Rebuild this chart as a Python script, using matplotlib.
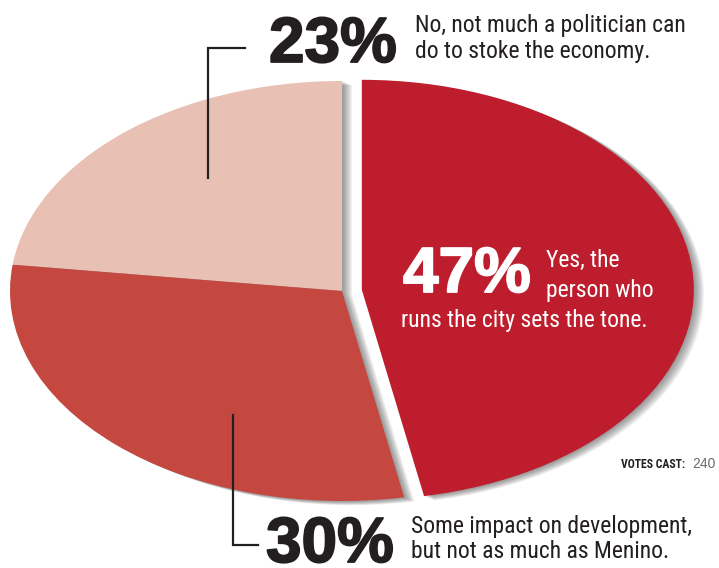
import matplotlib.pyplot as plt
from matplotlib import font_manager, patheffects

# data
shares = [23, 30, 47]
colors = ['#E9C0B4', '#C44740', '#BE1D2D']
pct_labels = ['23%', '30%', '47%']
lines_23 = ['No, not much a politician can', 'do to stoke the economy.']
lines_30 = ['Some impact on development,', 'but not as much as Menino.']
lines_47 = ['Yes, the', 'person who', 'runs the city sets the tone.']
votes_cast = 240

W, H = 719, 568

# look for a narrow face, the reference uses a condensed grotesque
entries = font_manager.fontManager.ttflist
names = {f.name for f in entries}
narrow = {'family': 'DejaVu Sans'}
found = False
for nm in ['Liberation Sans Narrow', 'Roboto Condensed', 'Open Sans Condensed', 'Noto Sans Condensed']:
    if nm in names:
        narrow = {'family': nm}
        found = True
        break
if not found:
    for f in entries:
        if f.name in ('DejaVu Sans', 'Noto Sans', 'Open Sans', 'Roboto') and f.stretch == 'condensed':
            narrow = {'family': f.name, 'fontstretch': 'condensed'}
            found = True
            break
small_size = 17 if found else 14
heavy = 'Liberation Sans'

fig = plt.figure(figsize=(W / 100, H / 100), dpi=100)

# pie drawn as a circle, squashed into an ellipse via the axis limits
cx, cy, a, b = 342, 291, 332, 210
ax = fig.add_axes([0, 0, 1, 1])
explode = [0, 0, 0.06]

# soft drop shadow: a few faint grey copies shifted right/down
n_sh = 7
for i in range(1, n_sh + 1):
    ax.pie(shares, colors=['#3a3a3a'] * 3, startangle=90, explode=explode,
           center=(0.03 * i / n_sh, -0.02 * i / n_sh),
           wedgeprops={'linewidth': 0, 'alpha': 0.09})
ax.pie(shares, colors=colors, startangle=90, counterclock=True,
       explode=explode, radius=1, wedgeprops={'linewidth': 0})
ax.set_aspect('auto')
ax.set_xlim(-cx / a, (W - cx) / a)
ax.set_ylim(-(H - cy) / b, cy / b)
ax.axis('off')

# overlay in pixel units for the labels and leader lines
ov = fig.add_axes([0, 0, 1, 1], facecolor='none')
ov.set_xlim(0, W)
ov.set_ylim(H, 0)
ov.axis('off')

# leader lines
ov.plot([245, 208, 208], [48, 48, 178], color='#231F20', lw=1.6, solid_joinstyle='miter')
ov.plot([233, 233, 258], [415, 545, 545], color='#231F20', lw=1.6, solid_joinstyle='miter')

big = dict(family=heavy, fontweight='bold', fontsize=46, va='baseline')
dark_fx = [patheffects.withStroke(linewidth=1.3, foreground='#231F20')]
light_fx = [patheffects.withStroke(linewidth=1.3, foreground='white')]
ov.text(269, 62, pct_labels[0], color='#231F20', path_effects=dark_fx, **big)
ov.text(266, 562, pct_labels[1], color='#231F20', path_effects=dark_fx, **big)
ov.text(403, 292, pct_labels[2], color='white', path_effects=light_fx, **big)

small = dict(fontsize=small_size, va='baseline', **narrow)
for i, s in enumerate(lines_23):
    ov.text(415, 32 + 26 * i, s, color='#231F20', **small)
for i, s in enumerate(lines_30):
    ov.text(411, 533 + 25 * i, s, color='#231F20', **small)
ov.text(546, 267, lines_47[0], color='white', **small)
ov.text(546, 297, lines_47[1], color='white', **small)
ov.text(401, 327, lines_47[2], color='white', **small)

ov.text(685, 468, 'VOTES CAST:', color='#231F20', fontweight='bold',
        fontsize=8.5, va='baseline', ha='right', **narrow)
ov.text(716, 468, str(votes_cast), color='#6b6b6b', family=heavy, fontsize=10,
        va='baseline', ha='right')

fig.savefig('out.png', dpi=100)
